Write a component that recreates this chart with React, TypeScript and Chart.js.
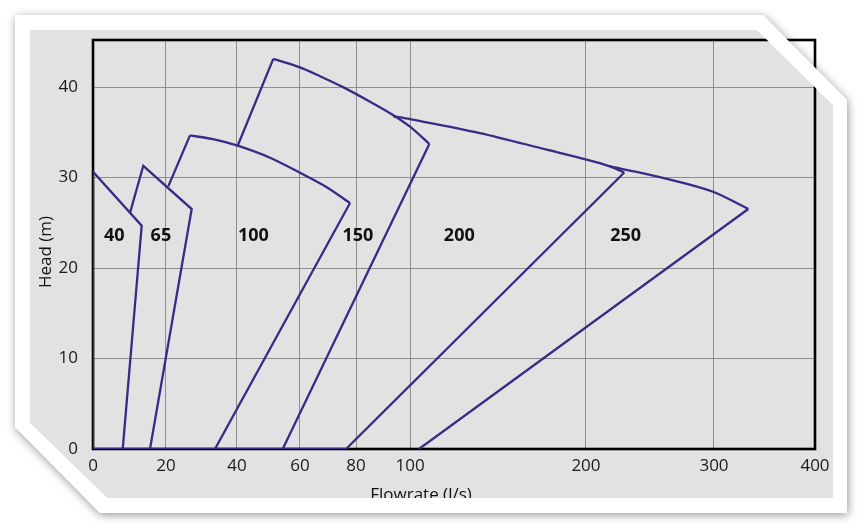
import React, { useEffect, useRef } from 'react';
import { Chart, LinearScale, registerables } from 'chart.js';

Chart.register(...registerables);

// ---- Axis definitions ----
const X_TICKS = [0, 20, 40, 60, 80, 100, 200, 300, 400];
// fraction of axis length where each X tick sits (non-linear scale of the original)
const X_TICK_FRAC = [0, 0.1011, 0.1994, 0.2867, 0.3643, 0.4391, 0.6828, 0.8601, 1];
const Y_TICKS = [0, 10, 20, 30, 40];
const Y_MAX = 45.2;

// ---- Region labels ----
const REGION_NAMES = ['40', '65', '100', '150', '200', '250'];
const LABEL_X = [5.8, 18.6, 45.2, 80.7, 128, 231];
const LABEL_Y = [23.6, 23.6, 23.6, 23.6, 23.6, 23.6];

// ---- Pump region outlines (flowrate l/s, head m); null = break ----
const EDGES_40 = [[8.14, 0], [0, 0], [0, 30.64], [13.34, 24.67], [8.14, 0]];
const EDGES_65 = [[8.14, 0], [15.62, 0], [27.24, 26.52], [13.78, 31.3], [10.14, 26.1]];
const EDGES_100 = [[20.65, 29.02], [26.76, 34.66], null, [77.86, 27.18], [33.8, 0], [15.62, 0]];
const CURVE_100 = [[26.76, 34.66], [33.24, 34.24], [40.22, 33.52], [50.48, 32.19], [59.68, 30.59], [69.54, 28.93], [77.86, 27.18]];
const EDGES_150 = [[40.22, 33.52], [51.52, 43.11], null, [110.97, 33.71], [54.51, 0], [33.8, 0]];
const CURVE_150 = [[51.52, 43.11], [59.78, 42.2], [67.14, 41.2], [75.36, 39.99], [85.19, 38.38], [93.22, 37.0], [100, 35.62], [110.97, 33.71]];
const EDGES_200 = [[229.9, 30.56], [76.43, 0], [54.51, 0]];
const CURVE_200 = [[93.81, 36.76], [100, 36.45], [139.77, 34.92], [177.67, 33.08], [200.5, 31.97], [218.75, 31.23], [229.9, 30.56]];
const EDGES_250 = [[333.96, 26.52], [105.11, 0]];
const CURVE_250 = [[218.75, 31.23], [247.4, 30.39], [273.4, 29.5], [300.3, 28.37], [333.96, 26.52]];

const STRAIGHT = [EDGES_40, EDGES_65, EDGES_100, EDGES_150, EDGES_200, EDGES_250];
const CURVES = [CURVE_100, CURVE_150, CURVE_200, CURVE_250];

// ---- Styling ----
const FONT = '"Open Sans", "Noto Sans", sans-serif';
const PURPLE = '#3a2a86';
const PANEL = '#e2e2e2';
const GRID = '#8e8e8e';
const OUTER = [[15, 15], [763, 15], [847, 100], [847, 513], [100, 513], [15, 427]];
const INNER = [[30, 30], [757, 30], [833, 105], [833, 498], [107, 498], [30, 423]];

function valueToFrac(v: any): number {
  if (v === null || v === undefined || isNaN(v)) return NaN;
  const b = X_TICKS, f = X_TICK_FRAC;
  for (let i = 1; i < b.length; i++) {
    if (v <= b[i] || i === b.length - 1) {
      return f[i - 1] + ((v - b[i - 1]) / (b[i] - b[i - 1])) * (f[i] - f[i - 1]);
    }
  }
  return NaN;
}
function fracToValue(fr: number): number {
  const b = X_TICKS, f = X_TICK_FRAC;
  for (let i = 1; i < f.length; i++) {
    if (fr <= f[i] || i === f.length - 1) {
      return b[i - 1] + ((fr - f[i - 1]) / (f[i] - f[i - 1])) * (b[i] - b[i - 1]);
    }
  }
  return NaN;
}

class PiecewiseScale extends LinearScale {
  static id = 'piecewise';
  static defaults = {};
  buildTicks() {
    return X_TICKS.map((v) => ({ value: v }));
  }
  getPixelForValue(value: any) {
    const fr = valueToFrac(value);
    if (isNaN(fr)) return NaN;
    return this.getPixelForDecimal(fr);
  }
  getValueForPixel(pixel: number) {
    return fracToValue(this.getDecimalForPixel(pixel));
  }
}
Chart.register(PiecewiseScale as any);

function toPts(arr: any[]) {
  return arr.map((p) => (p === null ? { x: null, y: null } : { x: p[0], y: p[1] }));
}

function poly(ctx: CanvasRenderingContext2D, pts: number[][]) {
  ctx.moveTo(pts[0][0], pts[0][1]);
  for (let i = 1; i < pts.length; i++) ctx.lineTo(pts[i][0], pts[i][1]);
  ctx.closePath();
}

const framePlugin = {
  id: 'frame',
  beforeDraw(chart: any) {
    const ctx = chart.ctx as CanvasRenderingContext2D;
    ctx.save();
    ctx.fillStyle = '#ffffff';
    ctx.fillRect(0, 0, chart.width, chart.height);
    ctx.shadowColor = 'rgba(0,0,0,0.42)';
    ctx.shadowBlur = 10;
    ctx.shadowOffsetX = 1;
    ctx.shadowOffsetY = 2;
    ctx.beginPath();
    poly(ctx, OUTER);
    ctx.fillStyle = '#ffffff';
    ctx.fill();
    ctx.shadowColor = 'transparent';
    ctx.shadowBlur = 0;
    ctx.beginPath();
    poly(ctx, INNER);
    ctx.fillStyle = PANEL;
    ctx.fill();
    ctx.restore();
  },
  beforeDatasetsDraw(chart: any) {
    const { ctx, chartArea: a } = chart;
    ctx.save();
    ctx.strokeStyle = '#000';
    ctx.lineWidth = 2.6;
    ctx.strokeRect(a.left, a.top, a.right - a.left, a.bottom - a.top);
    ctx.restore();
  },
  afterDatasetsDraw(chart: any) {
    const ctx = chart.ctx as CanvasRenderingContext2D;
    const xs = chart.scales.x, ys = chart.scales.y;
    ctx.save();
    ctx.fillStyle = '#111';
    ctx.font = `bold 18px ${FONT}`;
    ctx.textAlign = 'center';
    ctx.textBaseline = 'middle';
    REGION_NAMES.forEach((n, i) => {
      ctx.fillText(n, xs.getPixelForValue(LABEL_X[i]), ys.getPixelForValue(LABEL_Y[i]));
    });
    ctx.font = `17px ${FONT}`;
    ctx.textBaseline = 'alphabetic';
    ctx.fillText('Flowrate (l/s)', 421, 500);
    ctx.translate(51, 252);
    ctx.rotate(-Math.PI / 2);
    ctx.textBaseline = 'alphabetic';
    ctx.fillText('Head (m)', 0, 0);
    ctx.restore();
  },
  afterDraw(chart: any) {
    const ctx = chart.ctx as CanvasRenderingContext2D;
    ctx.save();
    ctx.beginPath();
    poly(ctx, OUTER);
    poly(ctx, INNER);
    ctx.fillStyle = '#ffffff';
    ctx.fill('evenodd');
    ctx.restore();
  },
};

export default function App() {
  const ref = useRef<HTMLCanvasElement>(null);
  useEffect(() => {
    if (!ref.current) return;
    const datasets: any[] = [];
    STRAIGHT.forEach((d) =>
      datasets.push({
        data: toPts(d),
        showLine: true,
        borderColor: PURPLE,
        borderWidth: 2.3,
        pointRadius: 0,
        tension: 0,
        spanGaps: false,
        borderJoinStyle: 'miter',
        fill: false,
      })
    );
    CURVES.forEach((d) =>
      datasets.push({
        data: toPts(d),
        showLine: true,
        borderColor: PURPLE,
        borderWidth: 2.3,
        pointRadius: 0,
        tension: 0.3,
        borderJoinStyle: 'miter',
        fill: false,
      })
    );
    const chart = new Chart(ref.current, {
      type: 'scatter',
      data: { datasets },
      plugins: [framePlugin],
      options: {
        animation: false,
        responsive: false,
        events: [],
        layout: { padding: { left: 0, top: 40, right: 47, bottom: 0 } },
        plugins: { legend: { display: false }, tooltip: { enabled: false } },
        scales: {
          x: {
            type: 'piecewise' as any,
            min: 0,
            max: 400,
            border: { display: false },
            grid: { color: GRID, lineWidth: 1, drawTicks: false },
            ticks: {
              autoSkip: false,
              maxRotation: 0,
              padding: 7,
              color: '#1a1a1a',
              font: { family: FONT, size: 17 },
              callback: (v: any) => String(v),
            },
            afterFit: (s: any) => {
              s.height = 79;
            },
          },
          y: {
            min: 0,
            max: Y_MAX,
            border: { display: false },
            grid: { color: GRID, lineWidth: 1, drawTicks: false },
            afterBuildTicks: (s: any) => {
              s.ticks = Y_TICKS.map((v) => ({ value: v }));
            },
            ticks: {
              padding: 15,
              color: '#1a1a1a',
              font: { family: FONT, size: 17 },
              callback: (v: any) => String(v),
            },
            afterFit: (s: any) => {
              s.width = 93;
            },
          },
        },
      } as any,
    });
    return () => chart.destroy();
  }, []);
  return (
    <div style={{ position: 'fixed', left: 0, top: 0, width: 862, height: 528 }}>
      <canvas ref={ref} width={862} height={528} style={{ display: 'block', width: 862, height: 528 }} />
    </div>
  );
}
